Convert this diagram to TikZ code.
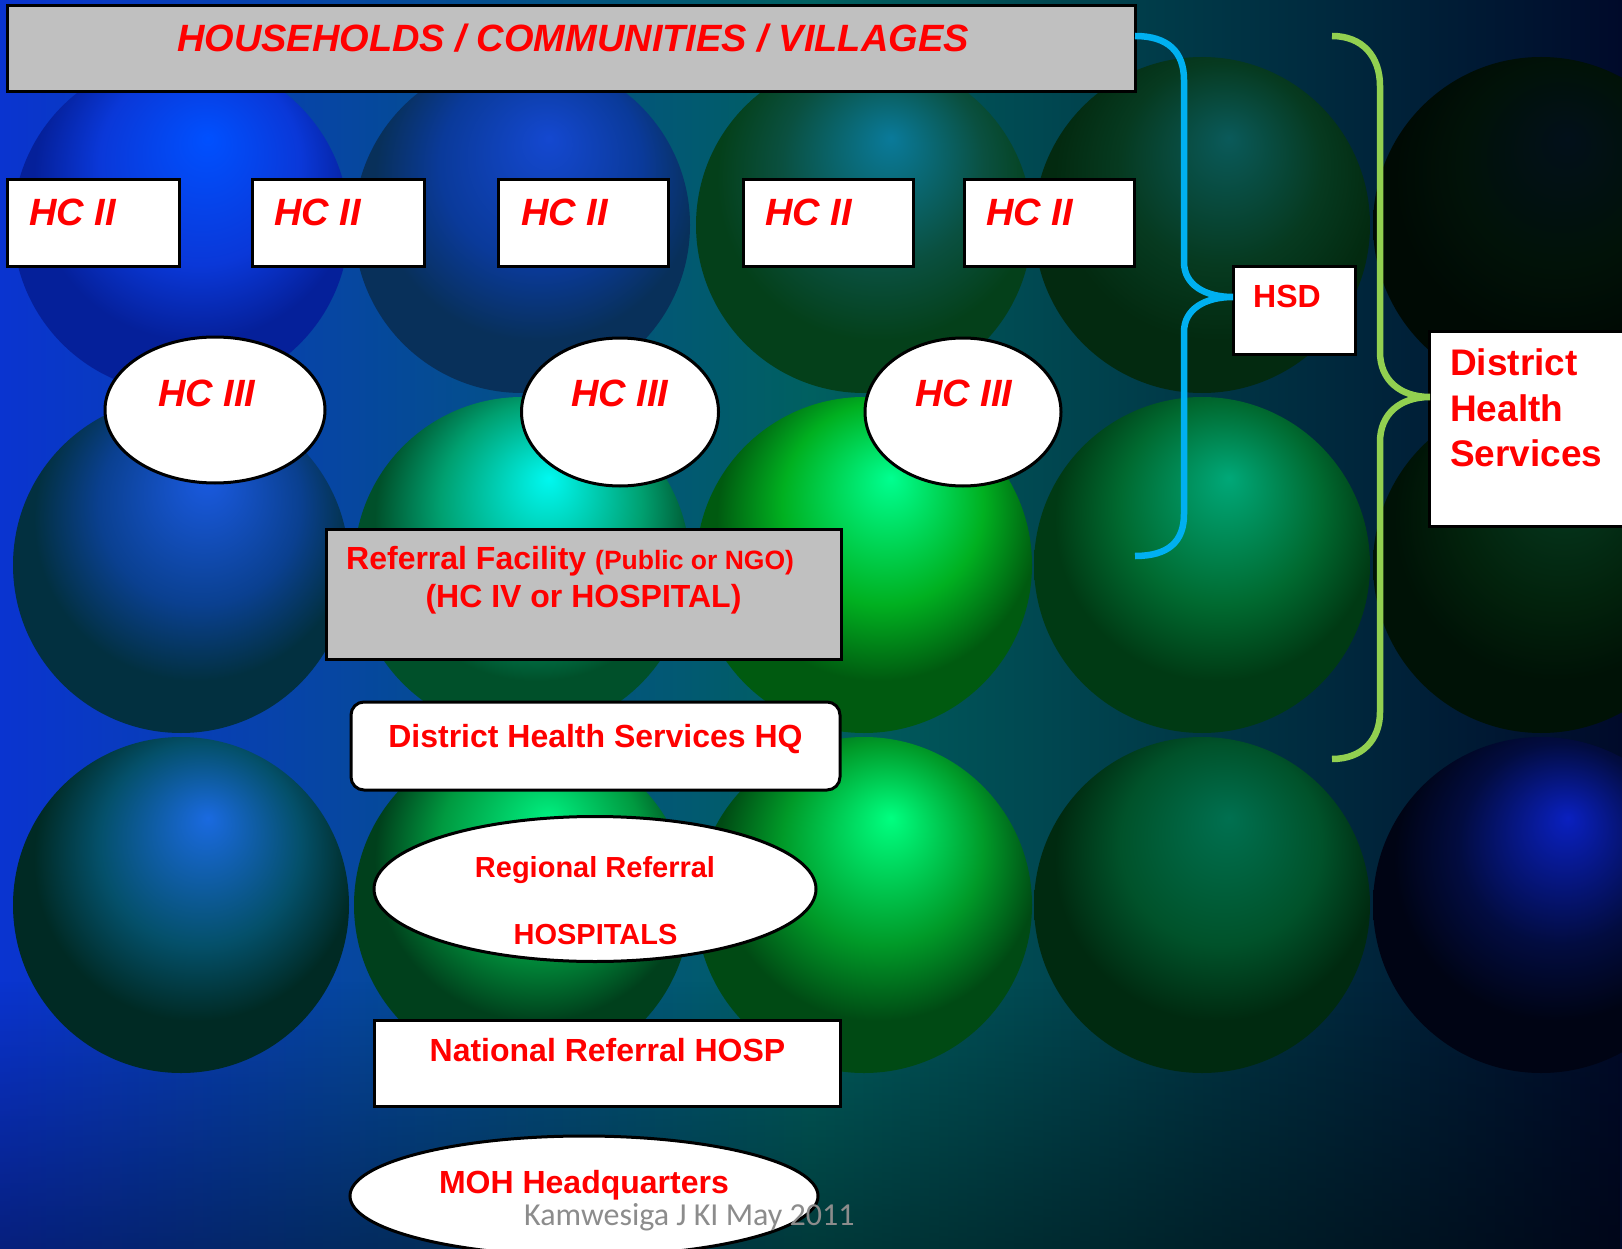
\documentclass[tikz,border=0pt]{standalone}
\usepackage{fontspec}
\setmainfont{Liberation Sans}
\newfontfamily\footfont{Carlito}
\usetikzlibrary{shapes.geometric,fadings}
\definecolor{txtred}{HTML}{FF0000}
\definecolor{boxgrey}{HTML}{C0C0C0}
\definecolor{bracecyan}{HTML}{00B0F0}
\definecolor{bracegreen}{HTML}{92D050}
\definecolor{footgrey}{HTML}{8C8C8C}
\definecolor{bgleft}{HTML}{0A34D0}
\definecolor{bgmid}{HTML}{006060}
\definecolor{bgright}{HTML}{000A2A}
\definecolor{sphA}{HTML}{FFFFFF}
\definecolor{sphB}{HTML}{888888}
\definecolor{sphC}{HTML}{000000}
\pgfdeclareradialshading[sphA,sphB,sphC]{sphere}{\pgfpoint{4bp}{13bp}}{color(0bp)=(sphA); color(15bp)=(sphB); color(24bp)=(sphC); color(25bp)=(sphC); color(50bp)=(sphC)}
\tikzset{
  sph/.code n args={3}{\definecolor{sphA}{HTML}{#1}\definecolor{sphB}{HTML}{#2}\definecolor{sphC}{HTML}{#3}},
  boxw/.style={draw=black, fill=white, line width=3pt, rectangle, inner sep=0pt},
  boxg/.style={draw=black, fill=boxgrey, line width=3pt, rectangle, inner sep=0pt},
  ellw/.style={draw=black, fill=white, line width=3pt, ellipse, inner sep=0pt},
  lbl/.style={text=txtred, inner sep=0pt, font=\bfseries\fontsize{32}{38}\selectfont},
  lblit/.style={text=txtred, inner sep=0pt, font=\bfseries\itshape\fontsize{38}{46}\selectfont},
  lblbig/.style={text=txtred, inner sep=0pt, font=\bfseries\fontsize{37}{45}\selectfont},
  lblsm/.style={text=txtred, inner sep=0pt, font=\bfseries\fontsize{29}{35}\selectfont},
  bracel/.style={line width=6.5pt},
}
\begin{document}
\begin{tikzpicture}[x=1pt,y=-1pt]
\useasboundingbox (0,0) rectangle (1622,1249);
\clip (0,0) rectangle (1622,1249);
% background
\shade[left color=bgleft, right color=bgright, middle color=bgmid] (0,0) rectangle (1622,1249);
\fill[black, fill opacity=0.4, path fading=north] (0,980) rectangle (1622,1249);
% spheres row 1
\shade[sph={0050FF}{0A38D8}{05209A}, shading=sphere] (181,225) circle (168pt);
\shade[sph={1448D0}{0A3A9A}{08305A}, shading=sphere] (522,225) circle (168pt);
\shade[sph={0A7A9A}{0A5040}{04401A}, shading=sphere] (864,225) circle (168pt);
\shade[sph={0A5A5A}{063A20}{032A10}, shading=sphere] (1202,225) circle (168pt);
\shade[sph={02101A}{011208}{000A04}, shading=sphere] (1541,225) circle (168pt);
% spheres row 2
\shade[sph={1A5AE0}{0A4090}{023040}, shading=sphere] (181,565) circle (168pt);
\shade[sph={00F8F0}{00A070}{00502A}, shading=sphere] (522,565) circle (168pt);
\shade[sph={00FF90}{00B020}{005A10}, shading=sphere] (864,565) circle (168pt);
\shade[sph={00A878}{006A30}{003A14}, shading=sphere] (1202,565) circle (168pt);
\shade[sph={063A20}{02220C}{001206}, shading=sphere] (1541,565) circle (168pt);
% spheres row 3
\shade[sph={1A6AE0}{04506A}{002A24}, shading=sphere] (181,905) circle (168pt);
\shade[sph={00F080}{009A40}{00401C}, shading=sphere] (522,905) circle (168pt);
\shade[sph={00FF80}{009A28}{004A14}, shading=sphere] (864,905) circle (168pt);
\shade[sph={007050}{00522A}{002A10}, shading=sphere] (1202,905) circle (168pt);
\shade[sph={0A20C0}{020C40}{000414}, shading=sphere] (1541,905) circle (168pt);

% top box
\node[boxg, minimum width=1128pt, minimum height=86pt] (top) at (571,49) {};
\node[lblit, anchor=base] (toptxt) at (573,52) {HOUSEHOLDS / COMMUNITIES / VILLAGES};

% HC II boxes
\node[boxw, minimum width=172pt, minimum height=87pt] (hcA) at (93,223.5) {};
\node[boxw, minimum width=172pt, minimum height=87pt] (hcB) at (338,223.5) {};
\node[boxw, minimum width=170pt, minimum height=87pt] (hcC) at (583.5,223.5) {};
\node[boxw, minimum width=170pt, minimum height=87pt] (hcD) at (828,223.5) {};
\node[boxw, minimum width=170pt, minimum height=87pt] (hcE) at (1049,223.5) {};
\node[lblit, anchor=base west] (hcAt) at (29,226) {HC II};
\node[lblit, anchor=base west] (hcBt) at (274,226) {HC II};
\node[lblit, anchor=base west] (hcCt) at (521,226) {HC II};
\node[lblit, anchor=base west] (hcDt) at (765,226) {HC II};
\node[lblit, anchor=base west] (hcEt) at (986,226) {HC II};

% HC III ellipses
\node[ellw, minimum width=220pt, minimum height=146pt] (hcF) at (215,410) {};
\node[ellw, minimum width=197pt, minimum height=148pt] (hcG) at (620,412) {};
\node[ellw, minimum width=196pt, minimum height=148pt] (hcH) at (963,412) {};
\node[lblit, anchor=base] (hcFt) at (207,406) {HC III};
\node[lblit, anchor=base] (hcGt) at (620,406) {HC III};
\node[lblit, anchor=base] (hcHt) at (964,406) {HC III};

% HSD
\node[boxw, minimum width=122pt, minimum height=87pt] (hsd) at (1294,310.5) {};
\node[lbl, anchor=base west] (hsdt) at (1253,308) {HSD};

% District Health Services
\node[boxw, minimum width=211pt, minimum height=195pt] (dhs) at (1534.5,428.5) {};
\node[lblbig, anchor=base west] (dhsa) at (1450,375) {District};
\node[lblbig, anchor=base west] (dhsb) at (1450,421) {Health};
\node[lblbig, anchor=base west] (dhsc) at (1450,466) {Services};

% braces
\draw[bracel, bracecyan] (1135,36) .. controls (1168,36) and (1184,52) .. (1184,80) -- (1184,262) .. controls (1184,285) and (1205,297) .. (1233,297) .. controls (1205,297) and (1184,309) .. (1184,332) -- (1184,514) .. controls (1184,542) and (1168,556) .. (1135,556);
\draw[bracel, bracegreen] (1332,36) .. controls (1362,36) and (1380,56) .. (1380,86) -- (1380,352) .. controls (1380,380) and (1400,397) .. (1430,397) .. controls (1400,397) and (1380,414) .. (1380,442) -- (1380,712) .. controls (1380,740) and (1362,759) .. (1332,759);

% Referral facility
\node[boxg, minimum width=515pt, minimum height=130pt] (ref) at (583.5,594) {};
\node[lbl, anchor=base west] (refa) at (346,569) {Referral Facility {\fontsize{26.5}{32}\selectfont(Public or NGO)}};
\node[lbl, anchor=base] (refb) at (583.5,607) {(HC IV or HOSPITAL)};

% District Health Services HQ
\node[boxw, rounded corners=13pt, minimum width=489pt, minimum height=88pt] (hq) at (595.5,746) {};
\node[lbl, anchor=base] (hqt) at (595.5,747) {District Health Services HQ};

% Regional referral
\node[ellw, minimum width=442pt, minimum height=145pt] (reg) at (595,889) {};
\node[lblsm, anchor=base] (rega) at (595,877) {Regional Referral};
\node[lblsm, anchor=base] (regb) at (595.5,944) {HOSPITALS};

% National referral
\node[boxw, minimum width=466pt, minimum height=86pt] (nat) at (607.5,1063.5) {};
\node[lbl, anchor=base] (natt) at (607.5,1061) {National Referral HOSP};

% MOH
\node[ellw, minimum width=468pt, minimum height=120pt] (moh) at (584,1196) {};
\node[lbl, anchor=base] (moht) at (584,1193) {MOH Headquarters};

% footer
\node[anchor=base west, inner sep=0pt, text=footgrey, font=\footfont\fontsize{32}{38}\selectfont] (foot) at (524,1225) {Kamwesiga J KI May 2011};
\end{tikzpicture}
\end{document}
